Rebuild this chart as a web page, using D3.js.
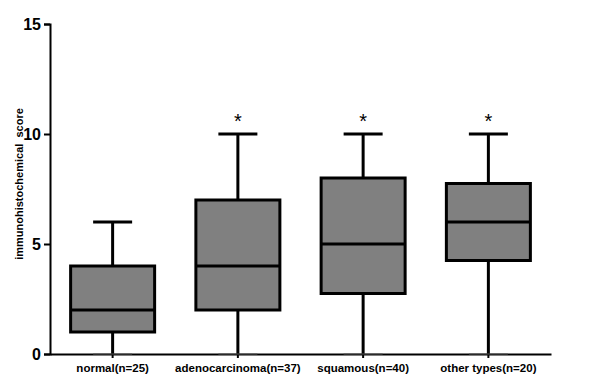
<html>
<head>
<style>
  body { margin: 0; background: #fff; }
  text { font-family: "Liberation Sans", Arial, sans-serif; font-weight: bold; }
</style>
</head>
<body>
<svg id="chart" width="591" height="384"></svg>
<script src="https://cdn.jsdelivr.net/npm/d3@7"></script>
<script>
// values
let groups = ["normal(n=25)", "adenocarcinoma(n=37)", "squamous(n=40)", "other types(n=20)"]
let mins = [0, 0, 0, 0]
let q1s = [1, 2, 2.75, 4.25]
let medians = [2, 4, 5, 6]
let q3s = [4, 7, 8, 7.75]
let maxs = [6, 10, 10, 10]
let stars = ["", "*", "*", "*"]
let yTicks = [0, 5, 10, 15]

let svg = d3.select("#chart")

let data = groups.map((g, i) => ({
    group: g, min: mins[i], q1: q1s[i], med: medians[i], q3: q3s[i], max: maxs[i], star: stars[i]
}))

let x = d3.scaleBand().domain(groups).range([50, 551])
let y = d3.scaleLinear().domain([0, 15]).range([354, 24])

let boxW = 84
let capW = 39

// y axis
let yAxis = svg.append("g")
    .attr("transform", "translate(50,0)")
    .call(d3.axisLeft(y).tickValues(yTicks).tickSize(6).tickPadding(3))
yAxis.select(".domain").attr("stroke", "#000").attr("stroke-width", 2)
yAxis.selectAll(".tick line").attr("stroke-width", 2)
yAxis.selectAll(".tick text").style("font-size", "16px").attr("fill", "#000")

// x axis
let xAxis = svg.append("g")
    .attr("transform", "translate(0,354)")
    .call(d3.axisBottom(x).tickSize(4).tickSizeOuter(0).tickPadding(6))
xAxis.select(".domain").attr("stroke", "#000").attr("stroke-width", 2)
xAxis.selectAll(".tick line").attr("stroke-width", 2)
xAxis.selectAll(".tick text").style("font-size", "11.5px").attr("fill", "#000")

svg.append("text")
    .attr("transform", "translate(23,184) rotate(-90)")
    .attr("text-anchor", "middle")
    .style("font-size", "11px")
    .style("white-space", "pre")
    .attr("xml:space", "preserve")
    .text("immunohistochemical  score")

let box = svg.selectAll(".box")
    .data(data)
    .enter()
    .append("g")
    .attr("class", "box")
    .attr("transform", d => "translate(" + (x(d.group) + x.bandwidth() / 2) + ",0)")

// whiskers
box.append("line")
    .attr("y1", d => y(d.max)).attr("y2", d => y(d.min))
    .attr("stroke", "#000").attr("stroke-width", 3)
box.append("line")
    .attr("x1", -capW / 2).attr("x2", capW / 2)
    .attr("y1", d => y(d.max)).attr("y2", d => y(d.max))
    .attr("stroke", "#000").attr("stroke-width", 3)
box.append("line")
    .attr("x1", -capW / 2).attr("x2", capW / 2)
    .attr("y1", d => y(d.min)).attr("y2", d => y(d.min))
    .attr("stroke", "#555").attr("stroke-width", 1)

box.append("rect")
    .attr("x", -boxW / 2)
    .attr("width", boxW)
    .attr("y", d => y(d.q3))
    .attr("height", d => y(d.q1) - y(d.q3))
    .attr("fill", "#808080")
    .attr("stroke", "#000")
    .attr("stroke-width", 3)

box.append("line")
    .attr("x1", -boxW / 2).attr("x2", boxW / 2)
    .attr("y1", d => y(d.med)).attr("y2", d => y(d.med))
    .attr("stroke", "#000").attr("stroke-width", 3)

box.append("text")
    .attr("y", d => y(d.max) - 6)
    .attr("text-anchor", "middle")
    .style("font-size", "20px")
    .style("font-weight", "normal")
    .text(d => d.star)
</script>
</body>
</html>
